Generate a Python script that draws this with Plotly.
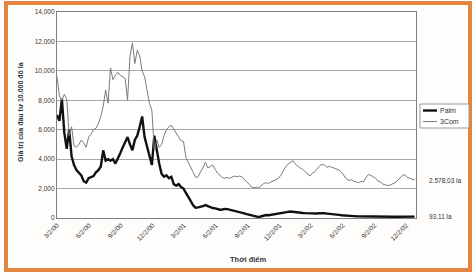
import plotly.graph_objects as go
import pandas as pd

# weekly observations starting at the Palm IPO
start_date = "2000-03-02"
n_weeks = 148

palm = [7000, 6600, 8100, 5800, 4700, 6000, 4200, 3600, 3250, 3100,
        2900, 2500, 2400, 2700, 2800, 2850, 3100, 3250, 3500, 4600,
        3900, 4000, 3900, 4000, 3700, 4000, 4400, 4800, 5100, 5500,
        5000, 4600, 5300, 5600, 6200, 6900, 5500, 4800, 4200, 3600,
        5600, 4600, 3700, 3000, 2800, 2900, 2700, 2800, 2300, 2200,
        2300, 2100, 2000, 1700, 1450, 1150, 850, 700, 720, 750,
        800, 880, 800, 720, 680, 650, 600, 560, 580, 620,
        600, 560, 540, 520, 480, 440, 380, 320, 260, 220,
        170, 120, 80, 60, 120, 180, 200, 190, 220, 260,
        320, 340, 360, 400, 410, 420, 440, 410, 390, 380,
        360, 340, 330, 320, 330, 340, 320, 310, 330, 340,
        320, 300, 290, 260, 250, 230, 210, 190, 170, 150,
        140, 130, 130, 120, 115, 110, 105, 100, 95, 90,
        85, 80, 78, 75, 72, 70, 72, 75, 80, 85,
        90, 95, 100, 98, 96, 95, 94, 93]

com3 = [9600, 8300, 8000, 8400, 8100, 5600, 6200, 4900, 4800, 5000,
        5300, 5100, 4800, 5500, 5700, 6000, 6100, 6400, 6900, 7600,
        8700, 7800, 10200, 9400, 9700, 9900, 9700, 9600, 9500, 8000,
        11000, 11900, 10500, 11400, 11000, 10000, 9600, 8700, 7800, 7300,
        4600, 5300, 4800, 5000, 5600, 6000, 6200, 6300, 6000, 5800,
        5500, 5250, 5200, 4100, 3800, 3450, 3100, 2750, 2800, 3130,
        3400, 3800, 3400, 3500, 3600, 3300, 3050, 2900, 2750, 2700,
        2750, 2700, 2800, 2850, 2800, 2850, 2800, 2600, 2450, 2300,
        2100, 2050, 2100, 2050, 2200, 2350, 2400, 2350, 2450, 2500,
        2600, 2700, 2900, 3200, 3500, 3650, 3800, 3900, 3650, 3500,
        3400, 3300, 3150, 3000, 2850, 3050, 3150, 3350, 3550, 3650,
        3600, 3450, 3500, 3450, 3400, 3350, 3250, 3100, 2900, 2650,
        2550, 2600, 2500, 2450, 2400, 2500, 2450, 2750, 2950, 2900,
        2800, 2700, 2500, 2450, 2300, 2250, 2200, 2250, 2300, 2400,
        2550, 2700, 2900, 2950, 2750, 2700, 2650, 2580]

series_names = ["Palm", "3Com"]
end_labels = ["93,11 la", "2.578,03 la"]

tick_dates = ["2000-03-02", "2000-06-02", "2000-09-02", "2000-12-02",
              "2001-03-02", "2001-06-02", "2001-09-02", "2001-12-02",
              "2002-03-02", "2002-06-02", "2002-09-02", "2002-12-02"]
tick_text = ["3/2/00", "6/2/00", "9/2/00", "12/2/00", "3/2/01", "6/2/01",
             "9/2/01", "12/2/01", "3/2/02", "6/2/02", "9/2/02", "12/2/02"]
y_ticks = [0, 2000, 4000, 6000, 8000, 10000, 12000, 14000]
y_text = ["0", "2,000", "4,000", "6,000", "8,000", "10,000", "12,000", "14,000"]

dates = pd.date_range(start_date, periods=n_weeks, freq="7D")

FONT = "Liberation Sans, Arial, sans-serif"
TXT = "#333333"
PALM_COLOR = "#111111"
COM_COLOR = "#7a7a7a"

fig = go.Figure()
fig.add_trace(go.Scatter(x=dates, y=palm, mode="lines", name=series_names[0],
                         line=dict(color=PALM_COLOR, width=2.4)))
fig.add_trace(go.Scatter(x=dates, y=com3, mode="lines", name=series_names[1],
                         line=dict(color=COM_COLOR, width=1)))

# manual legend (pixel layout converted to paper coords)
L, R, T, B = 57, 416, 12, 218
W, H = R - L, B - T
def px(x):
    return (x - L) / W
def py(y):
    return (B - y) / H

shapes = [
    dict(type="rect", xref="paper", yref="paper", x0=px(6), x1=px(470),
         y0=py(270), y1=py(3), line=dict(color="#e4843f", width=4),
         fillcolor="rgba(0,0,0,0)", layer="below"),
    dict(type="rect", xref="paper", yref="paper", x0=px(420), x1=px(469),
         y0=py(128), y1=py(104), line=dict(color="#9a9a9a", width=1),
         fillcolor="white"),
    dict(type="line", xref="paper", yref="paper", x0=px(423), x1=px(437),
         y0=py(110.5), y1=py(110.5), line=dict(color=PALM_COLOR, width=2.4)),
    dict(type="line", xref="paper", yref="paper", x0=px(423), x1=px(437),
         y0=py(121.5), y1=py(121.5), line=dict(color=COM_COLOR, width=1)),
]

fig.update_layout(
    width=473, height=276,
    margin=dict(l=L, r=473 - R, t=T, b=276 - B, autoexpand=False),
    paper_bgcolor="#fffdfb", plot_bgcolor="white",
    font=dict(family=FONT, size=7, color=TXT),
    showlegend=False,
    xaxis=dict(range=["2000-03-02", "2002-12-30"], tickmode="array",
               tickvals=tick_dates, ticktext=tick_text, tickangle=-45,
               showgrid=False, showline=True, linecolor="#808080",
               linewidth=1.2, mirror=True, ticks="", automargin=False,
               tickfont=dict(size=6.5, color=TXT), zeroline=False),
    yaxis=dict(range=[0, 14000], tickmode="array", tickvals=y_ticks,
               ticktext=y_text, showgrid=True, gridcolor="#a8a8a8",
               gridwidth=1, showline=True, linecolor="#808080",
               linewidth=1.2, mirror=True, ticks="", automargin=False,
               tickfont=dict(size=6.5, color=TXT), zeroline=False),
    annotations=[
        dict(text="<b>Giá trị của đầu tư 10.000 đô la</b>", xref="paper",
             yref="paper", x=px(20), y=py(112), textangle=-90, showarrow=False,
             font=dict(size=7, color=TXT), xanchor="center", yanchor="middle"),
        dict(text="<b>Thời điểm</b>", xref="paper", yref="paper", x=px(248),
             y=py(259), showarrow=False, font=dict(size=7.5, color="#2c3440"),
             xanchor="center", yanchor="middle"),
        dict(text=end_labels[1], xref="paper", yref="y", x=px(427), y=com3[-1],
             showarrow=False, xanchor="left", yanchor="middle",
             font=dict(size=6.5, color=TXT)),
        dict(text=end_labels[0], xref="paper", yref="y", x=px(427), y=palm[-1],
             showarrow=False, xanchor="left", yanchor="middle",
             font=dict(size=6.5, color=TXT)),
        dict(text=series_names[0], xref="paper", yref="paper", x=px(438),
             y=py(110.5), showarrow=False, xanchor="left", yanchor="middle",
             font=dict(size=7, color=TXT)),
        dict(text=series_names[1], xref="paper", yref="paper", x=px(438),
             y=py(121.5), showarrow=False, xanchor="left", yanchor="middle",
             font=dict(size=7, color=TXT)),
    ],
    shapes=shapes,
)

fig.write_html("out.html",
               config={"displayModeBar": False},
               post_script="document.body.style.margin='0';"
                           "document.body.style.overflow='hidden';")
